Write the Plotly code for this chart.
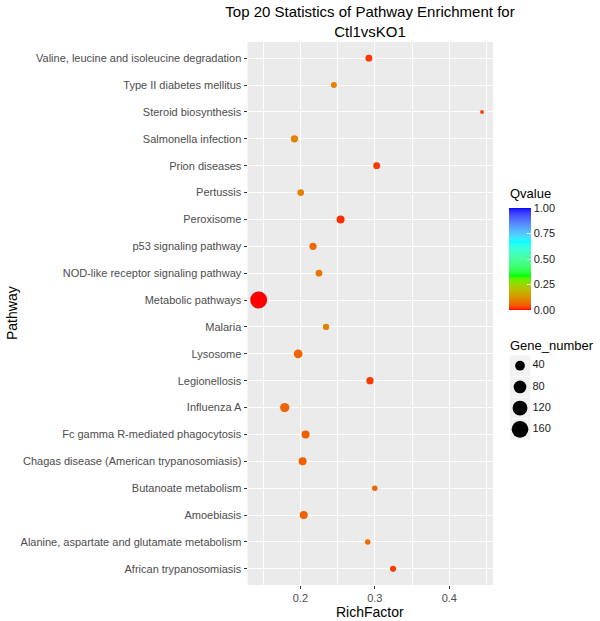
import math
import plotly.graph_objects as go

# ---------------- data ----------------
pathways = [
    "Valine, leucine and isoleucine degradation",
    "Type II diabetes mellitus",
    "Steroid biosynthesis",
    "Salmonella infection",
    "Prion diseases",
    "Pertussis",
    "Peroxisome",
    "p53 signaling pathway",
    "NOD-like receptor signaling pathway",
    "Metabolic pathways",
    "Malaria",
    "Lysosome",
    "Legionellosis",
    "Influenza A",
    "Fc gamma R-mediated phagocytosis",
    "Chagas disease (American trypanosomiasis)",
    "Butanoate metabolism",
    "Amoebiasis",
    "Alanine, aspartate and glutamate metabolism",
    "African trypanosomiasis",
]
rich_factor = [0.292, 0.245, 0.444, 0.192, 0.3025, 0.2005, 0.254, 0.217, 0.225, 0.144,
               0.2345, 0.197, 0.2935, 0.179, 0.207, 0.203, 0.300, 0.2045, 0.2905, 0.3245]
gene_number = [17, 13, 9, 19, 17, 16, 24, 19, 16, 168,
               14, 30, 19, 35, 24, 24, 11, 24, 11, 13]
qvalue = [0.02, 0.10, 0.03, 0.10, 0.02, 0.10, 0.015, 0.065, 0.08, 0.0,
          0.10, 0.06, 0.02, 0.06, 0.055, 0.055, 0.06, 0.055, 0.065, 0.02]
size_legend_values = [40, 80, 120, 160]
q_ticks = [0, 0.25, 0.5, 0.75, 1.0]
x_ticks = [0.2, 0.3, 0.4]
x_minor = [0.15, 0.25, 0.35, 0.45]

W, H = 600, 621
FONT = "Liberation Sans, Arial, Helvetica, sans-serif"

# ---------------- colour scale (Lab interpolation like ggplot) ----------------
def _srgb_to_lin(c):
    c = c / 255.0
    return c / 12.92 if c <= 0.04045 else ((c + 0.055) / 1.055) ** 2.4

def _lin_to_srgb(c):
    c = max(0.0, min(1.0, c))
    v = 12.92 * c if c <= 0.0031308 else 1.055 * c ** (1 / 2.4) - 0.055
    return int(round(max(0, min(1, v)) * 255))

def hex_to_lab(h):
    r, g, b = (int(h[i:i + 2], 16) for i in (1, 3, 5))
    r, g, b = _srgb_to_lin(r), _srgb_to_lin(g), _srgb_to_lin(b)
    x = (0.4124 * r + 0.3576 * g + 0.1805 * b) / 0.95047
    y = (0.2126 * r + 0.7152 * g + 0.0722 * b)
    z = (0.0193 * r + 0.1192 * g + 0.9505 * b) / 1.08883
    f = lambda t: t ** (1 / 3) if t > 0.008856 else 7.787 * t + 16 / 116
    fx, fy, fz = f(x), f(y), f(z)
    return (116 * fy - 16, 500 * (fx - fy), 200 * (fy - fz))

def lab_to_rgb(L, a, b):
    fy = (L + 16) / 116
    fx = fy + a / 500
    fz = fy - b / 200
    finv = lambda t: t ** 3 if t ** 3 > 0.008856 else (t - 16 / 116) / 7.787
    x, y, z = finv(fx) * 0.95047, finv(fy), finv(fz) * 1.08883
    r = 3.2406 * x - 1.5372 * y - 0.4986 * z
    g = -0.9689 * x + 1.8758 * y + 0.0415 * z
    bb = 0.0557 * x - 0.2040 * y + 1.0570 * z
    return "rgb(%d,%d,%d)" % (_lin_to_srgb(r), _lin_to_srgb(g), _lin_to_srgb(bb))

anchors = ["#FF0000", "#00FF00", "#00FFFF", "#0000FF"]
labs = [hex_to_lab(h) for h in anchors]
colorscale = []
N = 60
for i in range(N + 1):
    t = i / N
    seg = min(int(t * (len(anchors) - 1)), len(anchors) - 2)
    u = t * (len(anchors) - 1) - seg
    L = labs[seg][0] + (labs[seg + 1][0] - labs[seg][0]) * u
    A = labs[seg][1] + (labs[seg + 1][1] - labs[seg][1]) * u
    B = labs[seg][2] + (labs[seg + 1][2] - labs[seg][2]) * u
    colorscale.append([t, lab_to_rgb(L, A, B)])

# ---------------- size scale (area-like, ggplot style) ----------------
vmin, vmax = min(gene_number), max(gene_number)
def dot_size(v):
    s = max(0.0, (v - vmin) / (vmax - vmin))
    return 4 + 13 * math.sqrt(s)

# ---------------- layout geometry ----------------
px_l, px_r, px_t, px_b = 247.5, 493, 42, 585
x_dom = [px_l / W, px_r / W]
y_dom = [1 - px_b / H, 1 - px_t / H]

fig = go.Figure()

fig.add_trace(go.Scatter(
    x=rich_factor, y=pathways, mode="markers",
    marker=dict(
        size=[dot_size(v) for v in gene_number],
        color=qvalue, colorscale=colorscale, cmin=0, cmax=1,
        line=dict(width=0), opacity=1,
        colorbar=dict(
            x=509 / W, xanchor="left", y=1 - 208 / H, yanchor="top",
            lenmode="pixels", len=102, thickness=22, thicknessmode="pixels",
            xpad=0, ypad=0, outlinewidth=0,
            tickvals=q_ticks, tickformat=".2f", ticks="inside", tickcolor="white",
            ticklen=4, tickwidth=1,
            tickfont=dict(size=11, color="#1A1A1A", family=FONT),
        ),
    ),
    showlegend=False, hoverinfo="x+y",
    xaxis="x", yaxis="y",
))

# size legend
leg_labels = [str(v) for v in size_legend_values]
leg_idx = list(range(len(size_legend_values)))
fig.add_trace(go.Scatter(
    x=[0] * len(leg_idx), y=leg_idx, mode="markers",
    marker=dict(symbol="square", size=20.5, color="#F2F2F2", opacity=1, line=dict(width=0)),
    xaxis="x2", yaxis="y2", showlegend=False, hoverinfo="skip",
))
fig.add_trace(go.Scatter(
    x=[0] * len(leg_idx), y=leg_idx, mode="markers",
    marker=dict(size=[dot_size(v) for v in size_legend_values], color="#000000",
                opacity=1, line=dict(width=0)),
    xaxis="x2", yaxis="y2", showlegend=False, hoverinfo="skip",
))
fig.add_trace(go.Scatter(
    x=[0.62] * len(leg_idx), y=leg_idx, mode="text", text=leg_labels,
    textposition="middle right", textfont=dict(size=11, color="#1A1A1A", family=FONT),
    xaxis="x2", yaxis="y2", showlegend=False, hoverinfo="skip",
))

fig.update_layout(
    width=W, height=H,
    margin=dict(l=0, r=0, t=0, b=0),
    paper_bgcolor="white", plot_bgcolor="rgba(0,0,0,0)",
    font=dict(family=FONT, color="#000"),
    title=dict(
        text="Top 20 Statistics of Pathway Enrichment for<br>Ctl1vsKO1",
        x=370 / W, xanchor="center", xref="paper",
        y=1 - 17 / H, yanchor="top", yref="container",
        font=dict(size=15, color="#000", family=FONT),
    ),
    shapes=[dict(type="rect", xref="x domain", yref="y domain", x0=0, x1=1, y0=0, y1=1,
                 fillcolor="#EBEBEB", line=dict(width=0), layer="below")],
    xaxis=dict(
        domain=x_dom, range=[0.129, 0.4587], tickvals=x_ticks,
        ticktext=[str(v) for v in x_ticks],
        showgrid=True, gridcolor="white", gridwidth=1.1,
        minor=dict(tickvals=x_minor, showgrid=True,
                   gridcolor="white", gridwidth=0.5, ticks=""),
        zeroline=False, showline=False,
        ticks="outside", ticklen=3, tickcolor="#333333", tickwidth=1,
        tickfont=dict(size=11, color="#4D4D4D", family=FONT),
        fixedrange=True,
    ),
    yaxis=dict(
        domain=y_dom, type="category",
        categoryorder="array", categoryarray=list(reversed(pathways)),
        range=[-0.6, len(pathways) - 1 + 0.6],
        showgrid=True, gridcolor="white", gridwidth=1.1,
        zeroline=False, showline=False,
        ticks="outside", ticklen=3, tickcolor="#333333", tickwidth=1,
        tickfont=dict(size=11, color="#4D4D4D", family=FONT),
        fixedrange=True,
    ),
    xaxis2=dict(domain=[510 / W, 590 / W], range=[-0.5, 3.5], visible=False,
                anchor="y2", fixedrange=True),
    yaxis2=dict(domain=[1 - 439.9 / H, 1 - 355.1 / H], range=[3.5, -0.5], visible=False,
                anchor="x2", fixedrange=True),
    annotations=[
        dict(text="RichFactor", x=370 / W, y=1 - 612 / H, xref="paper", yref="paper",
             xanchor="center", yanchor="middle", showarrow=False,
             font=dict(size=14, color="#000", family=FONT)),
        dict(text="Pathway", x=12 / W, y=1 - 313 / H, xref="paper", yref="paper",
             xanchor="center", yanchor="middle", showarrow=False, textangle=-90,
             font=dict(size=14, color="#000", family=FONT)),
        dict(text="Qvalue", x=508 / W, y=1 - 193 / H, xref="paper", yref="paper",
             xanchor="left", yanchor="middle", showarrow=False,
             font=dict(size=13, color="#000", family=FONT)),
        dict(text="Gene_number", x=508 / W, y=1 - 345 / H, xref="paper", yref="paper",
             xanchor="left", yanchor="middle", showarrow=False,
             font=dict(size=13, color="#000", family=FONT)),
    ],
)

# remove the browser's default 8px page margin so the figure sits at the window origin
fig.write_html("out.html", config={"displayModeBar": False},
               post_script="document.body.style.margin='0px';")
